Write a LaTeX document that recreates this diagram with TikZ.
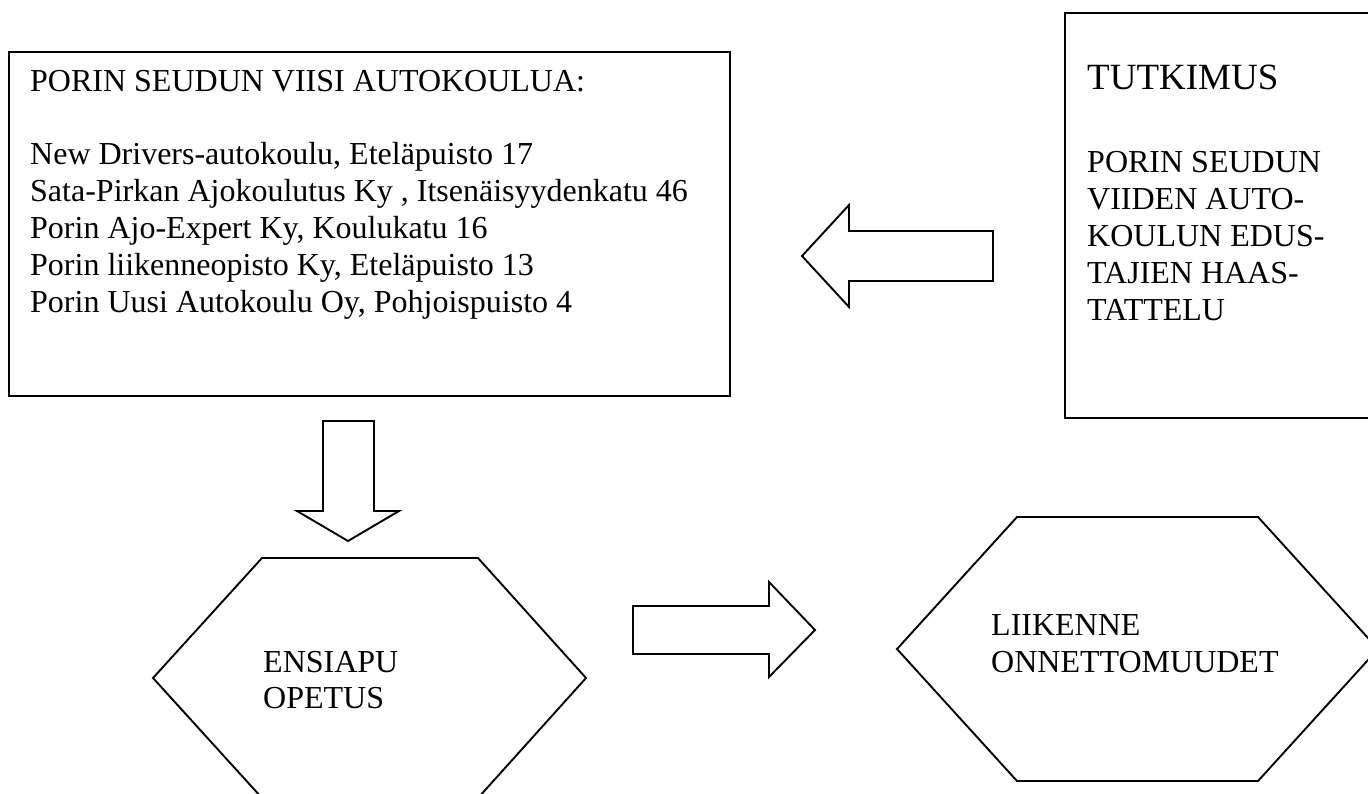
\documentclass[tikz,border=0pt]{standalone}
\usepackage{fontspec}
\setmainfont{Liberation Serif}
\tikzset{
  shp/.style={draw=black, line width=1.9pt, line join=miter, fill=white},
  txt/.style={anchor=base west, inner sep=0pt, font=\fontsize{32}{38}\selectfont},
  big/.style={anchor=base west, inner sep=0pt, font=\fontsize{37}{44}\selectfont}
}
\begin{document}
\begin{tikzpicture}[x=1pt,y=-1pt]
\useasboundingbox (0,0) rectangle (1368,794);
\clip (0,0) rectangle (1368,794);
% boxes
\draw[shp] (9,52) rectangle (730,396);
\draw[shp] (1065,13) rectangle (1385,418);
% left arrow
\draw[shp] (802,256) -- (849,205) -- (849,231) -- (993,231) -- (993,281) -- (849,281) -- (849,307) -- cycle;
% down arrow
\draw[shp] (323,421) -- (374,421) -- (374,511) -- (399,511) -- (348,541) -- (297,511) -- (323,511) -- cycle;
% right arrow
\draw[shp] (633,606) -- (769,606) -- (769,582) -- (815,630) -- (769,677) -- (769,654) -- (633,654) -- cycle;
% hexagons
\draw[shp] (262,558) -- (478,558) -- (586,678) -- (478,798) -- (262,798) -- (153,678) -- cycle;
\draw[shp] (1017,517) -- (1258,517) -- (1378,649) -- (1258,781) -- (1017,781) -- (897,649) -- cycle;
% left box text
\node[txt] (t0) at (30,92) {PORIN SEUDUN VIISI AUTOKOULUA:};
\node[txt] (t1) at (30,165) {New Drivers-autokoulu, Eteläpuisto 17};
\node[txt] (t2) at (30,202) {Sata-Pirkan Ajokoulutus Ky , Itsenäisyydenkatu 46};
\node[txt] (t3) at (30,238.5) {Porin Ajo-Expert Ky, Koulukatu 16};
\node[txt] (t4) at (30,275.5) {Porin liikenneopisto Ky, Eteläpuisto 13};
\node[txt] (t5) at (30,312.5) {Porin Uusi Autokoulu Oy, Pohjoispuisto 4};
% right box text
\node[big] (r0) at (1087,90) {TUTKIMUS};
\node[txt] (r1) at (1087,173) {PORIN SEUDUN};
\node[txt] (r2) at (1087,210) {VIIDEN AUTO-};
\node[txt] (r3) at (1087,247) {KOULUN EDUS-};
\node[txt] (r4) at (1087,283.5) {TAJIEN HAAS-};
\node[txt] (r5) at (1087,320) {TATTELU};
% hexagon texts
\node[txt] (h1) at (263,672) {ENSIAPU};
\node[txt] (h2) at (263,708) {OPETUS};
\node[txt] (h3) at (991,635) {LIIKENNE};
\node[txt] (h4) at (991,672) {ONNETTOMUUDET};
\end{tikzpicture}
\end{document}
